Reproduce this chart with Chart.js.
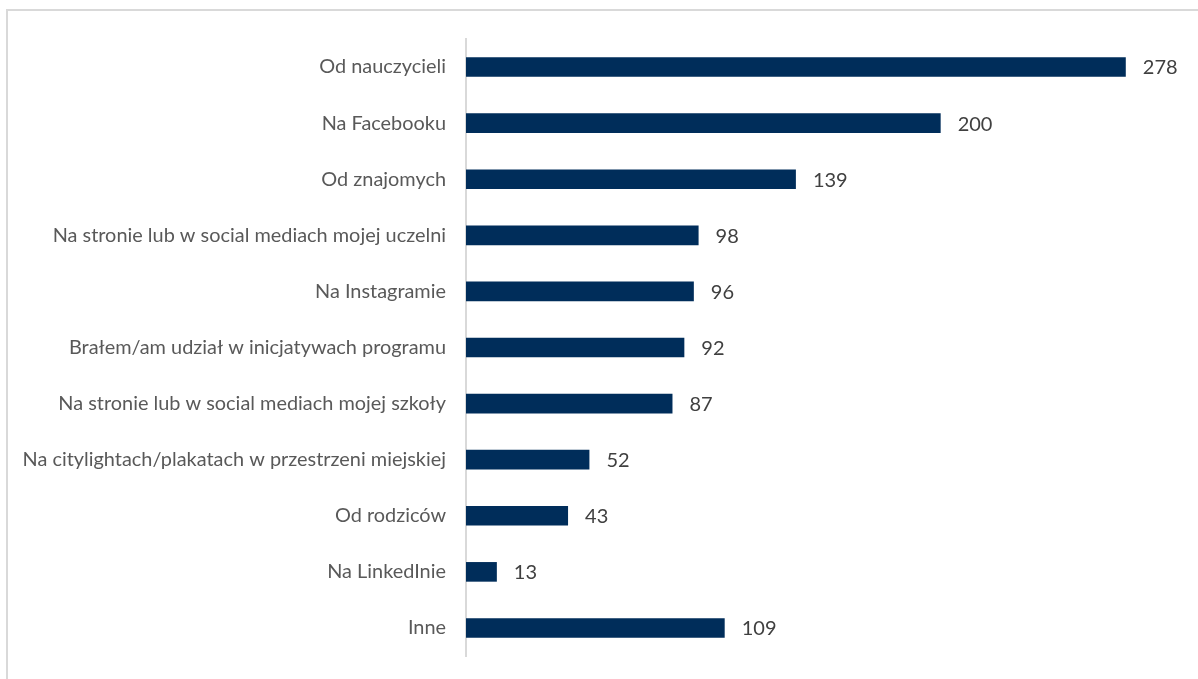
<!DOCTYPE html>
<html><head><meta charset="utf-8">
<script src="https://cdn.jsdelivr.net/npm/chart.js@4/dist/chart.umd.min.js"></script>
<style>html,body{margin:0;padding:0;background:#fff;}#wrap{position:relative;width:1198px;height:679px;}</style>
</head><body><div id="wrap"><canvas id="c" width="1198" height="679"></canvas></div>
<script>
const categories = [
  "Od nauczycieli",
  "Na Facebooku",
  "Od znajomych",
  "Na stronie lub w social mediach mojej uczelni",
  "Na Instagramie",
  "Brałem/am udział w inicjatywach programu",
  "Na stronie lub w social mediach mojej szkoły",
  "Na citylightach/plakatach w przestrzeni miejskiej",
  "Od rodziców",
  "Na LinkedInie",
  "Inne"
];
const values = [278, 200, 139, 98, 96, 92, 87, 52, 43, 13, 109];
const xMax = 300;

const frame = {
  id: 'frame',
  beforeDraw(chart) {
    const ctx = chart.ctx;
    ctx.save();
    ctx.fillStyle = '#fff';
    ctx.fillRect(0, 0, chart.width, chart.height);
    ctx.strokeStyle = '#d9d9d9';
    ctx.lineWidth = 2;
    ctx.strokeRect(7, 10, 1196, 700);
    ctx.restore();
  }
};
const valueLabels = {
  id: 'valueLabels',
  afterDatasetsDraw(chart) {
    const ctx = chart.ctx;
    const meta = chart.getDatasetMeta(0);
    ctx.save();
    ctx.font = '20px Lato, "Open Sans", sans-serif';
    ctx.fillStyle = '#404040';
    ctx.textAlign = 'left';
    ctx.textBaseline = 'middle';
    meta.data.forEach((bar, i) => {
      ctx.fillText(String(values[i]), bar.x + 17, bar.y + 1);
    });
    ctx.restore();
  }
};

new Chart(document.getElementById('c'), {
  type: 'bar',
  data: {
    labels: categories,
    datasets: [{
      data: values,
      backgroundColor: '#002d5a',
      borderWidth: 0,
      barPercentage: 0.7,
      categoryPercentage: 0.5
    }]
  },
  options: {
    indexAxis: 'y',
    responsive: false,
    animation: false,
    devicePixelRatio: 1,
    layout: { padding: { top: 39, bottom: 23, right: 20, left: 0 } },
    plugins: { legend: { display: false }, tooltip: { enabled: false } },
    scales: {
      x: { display: false, min: 0, max: xMax },
      y: {
        afterFit(scale) {
          scale.width = 466;
          scale.paddingTop = 0;
          scale.paddingBottom = 0;
        },
        grid: { display: false, drawTicks: false },
        border: { display: true, color: '#d9d9d9', width: 2 },
        ticks: {
          padding: 20,
          color: '#595959',
          font: { family: 'Lato, "Open Sans", sans-serif', size: 19.9 }
        }
      }
    }
  },
  plugins: [frame, valueLabels]
});
</script></body></html>
